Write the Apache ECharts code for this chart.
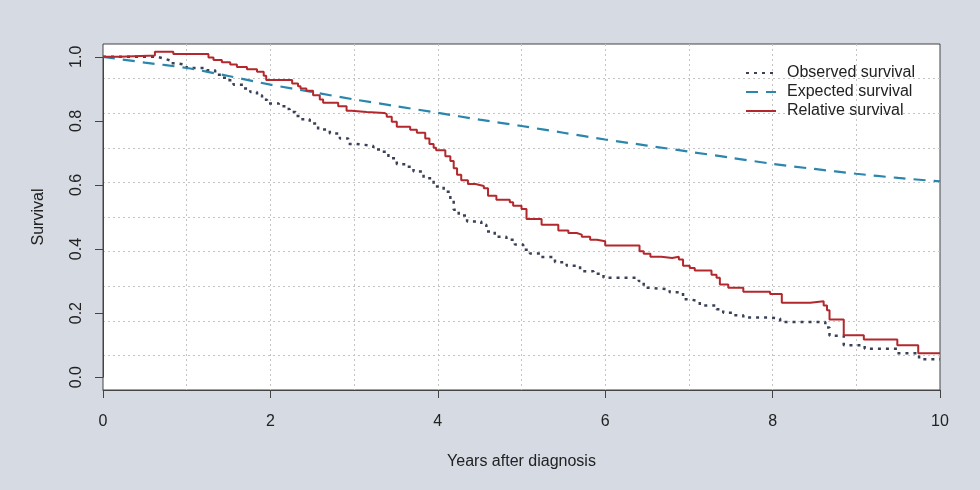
<!DOCTYPE html>
<html>
<head>
<meta charset="utf-8">
<script src="https://cdn.jsdelivr.net/npm/echarts@6/dist/echarts.min.js"></script>
<style>
html,body{margin:0;padding:0;background:#d5dae3;}
#chart{width:980px;height:490px;}
</style>
</head>
<body>
<div id="chart"></div>
<script>
const seriesNames = ['Observed survival', 'Expected survival', 'Relative survival'];
const xTicks = [0, 2, 4, 6, 8, 10];
const yTicks = [0.0, 0.2, 0.4, 0.6, 0.8, 1.0];

const observed = [
  [0,1.0],[0.65,0.995],[0.72,0.989],[0.8,0.98],[0.88,0.974],[1.0,0.965],[1.24,0.958],[1.34,0.944],
  [1.42,0.935],[1.48,0.927],[1.56,0.913],[1.68,0.901],[1.76,0.89],[1.84,0.88],[1.9,0.866],[1.96,0.854],
  [2.1,0.846],[2.2,0.837],[2.23,0.828],[2.3,0.815],[2.35,0.805],[2.47,0.792],[2.57,0.773],[2.71,0.761],
  [2.83,0.745],[2.93,0.728],[3.03,0.722],[3.23,0.711],[3.31,0.704],[3.41,0.683],[3.51,0.665],[3.63,0.657],
  [3.71,0.642],[3.83,0.621],[3.95,0.595],[4.07,0.579],[4.15,0.556],[4.19,0.523],[4.25,0.505],[4.35,0.486],
  [4.52,0.476],[4.58,0.455],[4.68,0.438],[4.82,0.429],[4.92,0.414],[5.02,0.398],[5.1,0.386],[5.22,0.375],
  [5.4,0.359],[5.54,0.348],[5.7,0.331],[5.86,0.323],[5.98,0.310],[6.4,0.300],[6.46,0.279],[6.54,0.274],
  [6.77,0.265],[6.93,0.243],[7.01,0.237],[7.13,0.224],[7.33,0.212],[7.41,0.201],[7.53,0.193],[7.65,0.186],
  [7.97,0.183],[8.09,0.172],[8.63,0.155],[8.68,0.129],[8.85,0.100],[9.1,0.089],[9.49,0.075],[9.75,0.056],
  [10,0.056]
];

const expected = [
  [0,1.0],[0.5,0.982],[1,0.965],[1.5,0.94],[2,0.913],[2.5,0.89],[3,0.867],[3.5,0.846],[4,0.825],
  [4.5,0.804],[5,0.784],[5.5,0.763],[6,0.742],[6.5,0.723],[7,0.704],[7.5,0.685],[8,0.666],[8.5,0.65],
  [9,0.635],[9.5,0.622],[10,0.611]
];

const relative = [
  [0,1.0],[0.2,1.004],[0.62,1.016],[0.84,1.009],[1.26,0.998],[1.32,0.99],[1.42,0.983],[1.52,0.976],
  [1.6,0.968],[1.72,0.961],[1.84,0.953],[1.92,0.941],[1.95,0.928],[2.26,0.917],[2.33,0.908],[2.36,0.901],
  [2.43,0.894],[2.51,0.880],[2.59,0.867],[2.63,0.857],[2.81,0.846],[2.91,0.832],[2.97,0.828],[3.15,0.825],
  [3.36,0.821],[3.39,0.813],[3.45,0.797],[3.51,0.782],[3.67,0.772],[3.75,0.763],[3.85,0.745],[3.9,0.728],
  [3.95,0.716],[3.98,0.708],[4.09,0.690],[4.15,0.675],[4.19,0.652],[4.23,0.632],[4.28,0.615],[4.36,0.603],
  [4.45,0.597],[4.55,0.590],[4.6,0.566],[4.7,0.554],[4.86,0.546],[4.9,0.535],[5.0,0.525],[5.06,0.494],
  [5.24,0.476],[5.44,0.458],[5.56,0.450],[5.66,0.445],[5.72,0.438],[5.82,0.429],[5.9,0.424],[6.0,0.411],
  [6.41,0.393],[6.46,0.385],[6.54,0.376],[6.67,0.372],[6.8,0.376],[6.88,0.367],[6.93,0.348],[7.01,0.341],
  [7.07,0.333],[7.27,0.320],[7.33,0.310],[7.37,0.289],[7.47,0.279],[7.65,0.267],[7.97,0.260],[8.11,0.232],
  [8.45,0.237],[8.61,0.224],[8.65,0.209],[8.68,0.180],[8.85,0.131],[9.09,0.118],[9.49,0.100],[9.74,0.075],
  [10,0.075]
];

const FONT = 'Liberation Sans, Arial, Helvetica, sans-serif';
const axisColor = '#444';
const gridLine = {show: true, showMinLine: false, showMaxLine: false,
  lineStyle: {color: '#c4c4c4', type: [2, 3], width: 1}};

const chart = echarts.init(document.getElementById('chart'));
chart.setOption({
  backgroundColor: '#d5dae3',
  animation: false,
  textStyle: {fontFamily: FONT},
  grid: [
    {left: 103, right: 40, top: 44, bottom: 100, show: true, backgroundColor: '#ffffff',
     borderColor: axisColor, borderWidth: 1},
    {left: 103, right: 40, top: 56.8, bottom: 112.8, show: false}
  ],
  legend: {
    orient: 'vertical', left: 740, top: 60, itemWidth: 30, itemHeight: 16, itemGap: 3,
    data: seriesNames,
    itemStyle: {opacity: 0},
    textStyle: {fontFamily: FONT, fontSize: 16, color: '#222', padding: [0, 0, 0, 6]}
  },
  xAxis: [
    {gridIndex: 0, type: 'value', min: 0, max: 10, interval: 2,
     axisLine: {show: true, onZero: false, lineStyle: {color: axisColor}},
     axisTick: {show: true, length: 8, lineStyle: {color: axisColor}},
     axisLabel: {show: true, margin: 24, fontSize: 16, color: '#222', fontFamily: FONT,
       formatter: v => xTicks.includes(v) ? String(v) : ''},
     splitLine: {show: false},
     name: 'Years after diagnosis', nameLocation: 'middle', nameGap: 64,
     nameTextStyle: {fontSize: 16, color: '#222', fontFamily: FONT}},
    {gridIndex: 0, type: 'value', min: 0, max: 10, interval: 1, position: 'bottom',
     axisLine: {show: false}, axisTick: {show: false}, axisLabel: {show: false},
     splitLine: gridLine},
    {gridIndex: 1, type: 'value', min: 0, max: 10, show: false}
  ],
  yAxis: [
    {gridIndex: 0, type: 'value', min: -0.04, max: 1.04,
     axisLine: {show: false}, axisTick: {show: false}, axisLabel: {show: false},
     splitLine: {show: false}},
    {gridIndex: 1, type: 'value', min: 0, max: 1, interval: 0.2,
     axisLine: {show: true, onZero: false, lineStyle: {color: axisColor}},
     axisTick: {show: true, length: 8, lineStyle: {color: axisColor}},
     axisLabel: {show: true, rotate: 90, margin: 18, fontSize: 16, color: '#222', fontFamily: FONT,
       formatter: v => v.toFixed(1)},
     splitLine: {show: false},
     name: 'Survival', nameLocation: 'middle', nameGap: 56, nameRotate: 90,
     nameTextStyle: {fontSize: 16, color: '#222', fontFamily: FONT}},
    {gridIndex: 0, type: 'value', min: 0, max: 10, interval: 1,
     axisLine: {show: false}, axisTick: {show: false}, axisLabel: {show: false},
     splitLine: gridLine}
  ],
  series: [
    {name: seriesNames[0], type: 'line', xAxisIndex: 0, yAxisIndex: 0, step: 'end',
     data: observed, symbol: 'none', clip: false, z: 3,
     lineStyle: {color: '#3a4157', width: 2.5, type: [3, 5]}, itemStyle: {color: '#3a4157'}},
    {name: seriesNames[1], type: 'line', xAxisIndex: 0, yAxisIndex: 0,
     data: expected, symbol: 'none', smooth: 0.3, clip: false, z: 4,
     lineStyle: {color: '#2a86ad', width: 2.2, type: [12, 8]}, itemStyle: {color: '#2a86ad'}},
    {name: seriesNames[2], type: 'line', xAxisIndex: 0, yAxisIndex: 0, step: 'end',
     data: relative, symbol: 'none', clip: false, z: 5,
     lineStyle: {color: '#b3282d', width: 2}, itemStyle: {color: '#b3282d'}}
  ]
});
</script>
</body>
</html>
